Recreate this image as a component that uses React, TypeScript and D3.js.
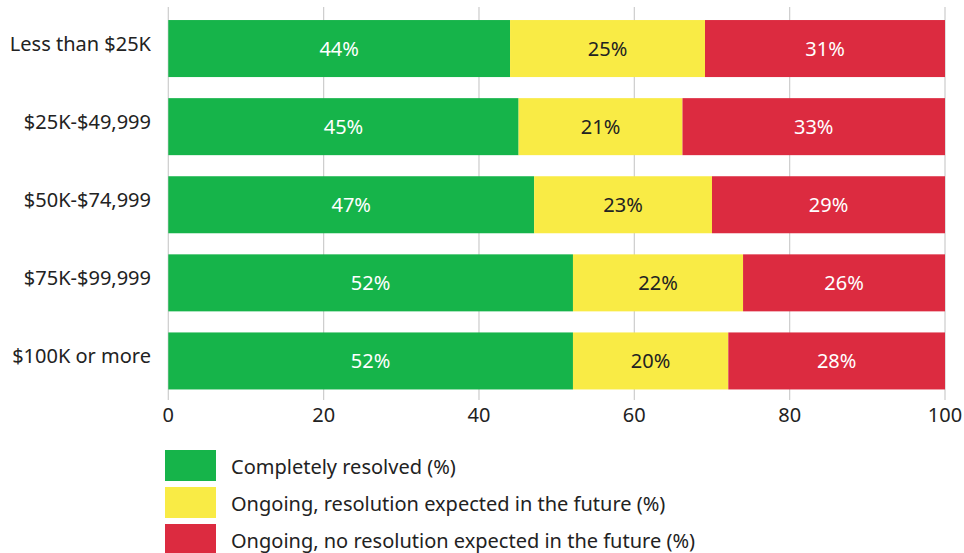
import React from "react";
import * as d3 from "d3";

const categories = ["Less than $25K", "$25K-$49,999", "$50K-$74,999", "$75K-$99,999", "$100K or more"];
const seriesNames = [
  "Completely resolved (%)",
  "Ongoing, resolution expected in the future (%)",
  "Ongoing, no resolution expected in the future (%)",
];
const resolved = [44, 45.1, 47.1, 52.1, 52.1];
const ongoingExpected = [25.1, 21.1, 22.9, 21.9, 20];
const ongoingNone = [30.9, 33.8, 30, 26, 27.9];
const resolvedLabels = [44, 45, 47, 52, 52];
const expectedLabels = [25, 21, 23, 22, 20];
const noneLabels = [31, 33, 29, 26, 28];
const xTicks = [0, 20, 40, 60, 80, 100];

const colors = ["#16b44a", "#f9eb45", "#dc2b40"];
const labelColors = ["#ffffff", "#222222", "#ffffff"];

export default function App() {
  const W = 964, H = 553;
  const left = 168.3, right = 945;
  const x = d3.scaleLinear().domain([0, 100]).range([left, right]);
  const y = d3.scaleBand<string>().domain(categories).range([9.5, 400]).paddingInner(0.27).paddingOuter(0.135);
  const font = "'Noto Sans', 'Open Sans', sans-serif";

  const series = [resolved, ongoingExpected, ongoingNone];
  const labels = [resolvedLabels, expectedLabels, noneLabels];
  const rows = categories.map((c, i) => ({ cat: c, s0: series[0][i], s1: series[1][i], s2: series[2][i] }));
  const stack = d3.stack<any>().keys(["s0", "s1", "s2"])(rows);

  return (
    <svg width={W} height={H} style={{ position: "absolute", left: 0, top: 0, background: "#fff" }} fontFamily={font}>
      {xTicks.map((t) => (
        <g key={t}>
          <line x1={x(t)} x2={x(t)} y1={7} y2={400} stroke="#cccccc" strokeWidth={1.2} />
          <text x={x(t)} y={422} textAnchor="middle" fontSize={20} fill="#222">{t}</text>
        </g>
      ))}
      {stack.map((layer, k) => (
        <g key={k}>
          {layer.map((d, i) => {
            const x0 = x(d[0]), x1 = x(d[1]);
            const yy = y(categories[i])!;
            return (
              <g key={i}>
                <rect x={x0} y={yy} width={x1 - x0} height={y.bandwidth()} fill={colors[k]} />
                <text x={(x0 + x1) / 2} y={yy + y.bandwidth() / 2 + 7} textAnchor="middle" fontSize={20} fill={labelColors[k]}>
                  {labels[k][i]}%
                </text>
              </g>
            );
          })}
        </g>
      ))}
      {categories.map((c) => (
        <text key={c} x={151} y={y(c)! + y.bandwidth() / 2 + 2.5} textAnchor="end" fontSize={20} fill="#222">{c}</text>
      ))}
      {seriesNames.map((n, k) => (
        <g key={n}>
          <rect x={165} y={450 + k * 37} width={51} height={31} fill={colors[k]} />
          <text x={231} y={450 + k * 37 + 24} fontSize={20} fill="#222">{n}</text>
        </g>
      ))}
    </svg>
  );
}
